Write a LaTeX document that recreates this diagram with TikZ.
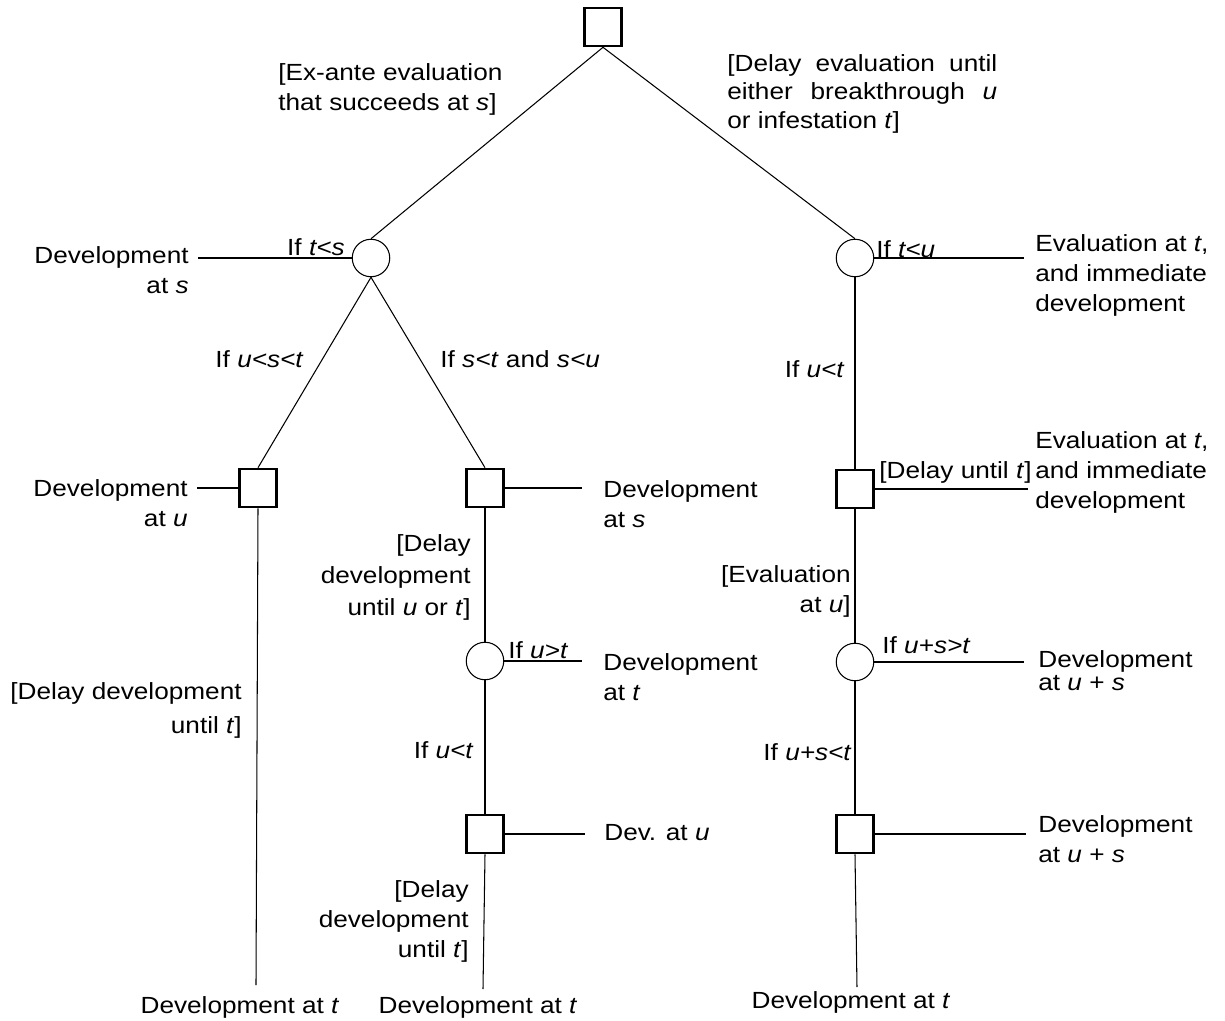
\documentclass[tikz,border=0pt]{standalone}
\usepackage{fontspec}
\setmainfont{Liberation Sans}[FakeStretch=1.12]
\begin{document}
\begin{tikzpicture}[x=0.02cm,y=-0.02cm]

\tikzstyle{every node}=[font=\fontsize{13.3}{17}\selectfont, inner sep=0pt]
\tikzstyle{choice}=[draw, line width=1.2pt, minimum width=0.74cm, minimum height=0.77cm]
\tikzstyle{chance}=[draw, circle, line width=0.6pt, minimum size=0.75cm]
\tikzstyle{branch}=[line width=0.6pt]

\useasboundingbox (0,0) rectangle (1225,1021);

% decision (square) and chance (circle) nodes
\node[choice] (root) at (603,27) {};
\node[chance] (evalL) at (371,258) {};
\node[chance] (evalR) at (855,258) {};
\node[choice] (devU) at (258,488) {};
\node[choice] (devS) at (485,488) {};
\node[chance] (waitUT) at (485,661) {};
\node[choice] (devLow) at (485,834) {};
\node[choice] (delayT) at (855,489) {};
\node[chance] (evalU) at (855,662) {};
\node[choice] (devUS) at (855,834) {};

% free ends
\coordinate (endL) at (256,985);
\coordinate (endM) at (483,989);
\coordinate (endR) at (857,987);
\coordinate (sideA) at (198,258);
\coordinate (sideB) at (1024,258);
\coordinate (sideC) at (197,488);
\coordinate (sideD) at (582,488);
\coordinate (sideE) at (582,661);
\coordinate (sideF) at (585,834);
\coordinate (sideG) at (1028,489);
\coordinate (sideH) at (1024,662);
\coordinate (sideI) at (1026,834);

% branches
\draw[branch] (root.south) -- (evalL.north);
\draw[branch] (root.south) -- (evalR.north);
\draw[branch] (evalL.south) -- (devU.north);
\draw[branch] (evalL.south) -- (devS.north);
\draw[branch] (evalR.south) -- (delayT.north);
\draw[branch] (devU.south) -- (endL);
\draw[branch] (devS.south) -- (waitUT.north);
\draw[branch] (waitUT.south) -- (devLow.north);
\draw[branch] (devLow.south) -- (endM);
\draw[branch] (delayT.south) -- (evalU.north);
\draw[branch] (evalU.south) -- (devUS.north);
\draw[branch] (devUS.south) -- (endR);

\draw[branch] (evalL.west) -- (sideA);
\draw[branch] (evalR.east) -- (sideB);
\draw[branch] (devU.west) -- (sideC);
\draw[branch] (devS.east) -- (sideD);
\draw[branch] (waitUT.east) -- (sideE);
\draw[branch] (devLow.east) -- (sideF);
\draw[branch] (delayT.east) -- (sideG);
\draw[branch] (evalU.east) -- (sideH);
\draw[branch] (devUS.east) -- (sideI);

% labels (multi-line ones sit on their last baseline)
\node[anchor=base west, align=left] (exante) at (278,110)
	{[Ex-ante evaluation\\that succeeds at \textit{s}]};
\node[anchor=base west, align=left] (delayEval) at (727,128)
	{\makebox[5.4cm][s]{[Delay evaluation until}\\[-1pt]
	 \makebox[5.4cm][s]{either breakthrough \textit{u}}\\[-1pt]
	 or infestation \textit{t}]};
\node[anchor=base east] (ifTS) at (345,255) {If \textit{t<s}};
\node[anchor=base east, align=right] (devAtS) at (189,293)
	{Development\\at \textit{s}};
\node[anchor=base west] (ifTU) at (876,257) {If \textit{t<u}};
\node[anchor=base west, align=left] (evalImm) at (1035,311)
	{Evaluation at \textit{t},\\and immediate\\development};

\node[anchor=base east] (ifUST) at (304,367) {If \textit{u<s<t}};
\node[anchor=base west] (ifSTSU) at (440,367)
	{If \textit{s<t} and \textit{s<u}};
\node[anchor=base east] (ifUT) at (845,377) {If \textit{u<t}};

\node[anchor=base east, align=right] (devAtU) at (188,526)
	{Development\\at \textit{u}};
\node[anchor=base east, align=right] (delayDevT) at (242,733)
	{[Delay development\\[2pt]until \textit{t}]};
\node[anchor=base west, align=left] (devAtS2) at (603,527)
	{Development\\at \textit{s}};
\node[anchor=base east, align=right] (delayDevUT) at (471,615)
	{[Delay\\[1pt]development\\[1pt]until \textit{u} or \textit{t}]};
\node[anchor=base west] (ifUgT) at (508,658) {If \textit{u>t}};
\node[anchor=base west, align=left] (devAtT) at (603,700)
	{Development\\at \textit{t}};
\node[anchor=base east] (ifUT2) at (474,758) {If \textit{u<t}};
\node[anchor=base west] (devAtU2) at (604,840) {Dev. at \textit{u}};
\node[anchor=base east, align=right] (delayDevT2) at (469,957)
	{[Delay\\development\\until \textit{t}]};

\node[anchor=base west] (delayUntilT) at (879,478) {[Delay until \textit{t}]};
\node[anchor=base west, align=left] (evalImm2) at (1035,508)
	{Evaluation at \textit{t},\\and immediate\\development};
\node[anchor=base east, align=right] (evalAtU) at (851,612)
	{[Evaluation\\at \textit{u}]};
\node[anchor=base west] (ifUSgT) at (882,653) {If \textit{u+s>t}};
\node[anchor=base west, align=left] (devAtUS) at (1038,690)
	{Development\\[-4pt]at \textit{u} + \textit{s}};
\node[anchor=base east] (ifUSlT) at (852,760) {If \textit{u+s<t}};
\node[anchor=base west, align=left] (devAtUS2) at (1038,862)
	{Development\\at \textit{u} + \textit{s}};

\node[anchor=base] (endLabelL) at (240,1013) {Development at \textit{t}};
\node[anchor=base] (endLabelM) at (478,1013) {Development at \textit{t}};
\node[anchor=base] (endLabelR) at (851,1008) {Development at \textit{t}};
\end{tikzpicture}
\end{document}
